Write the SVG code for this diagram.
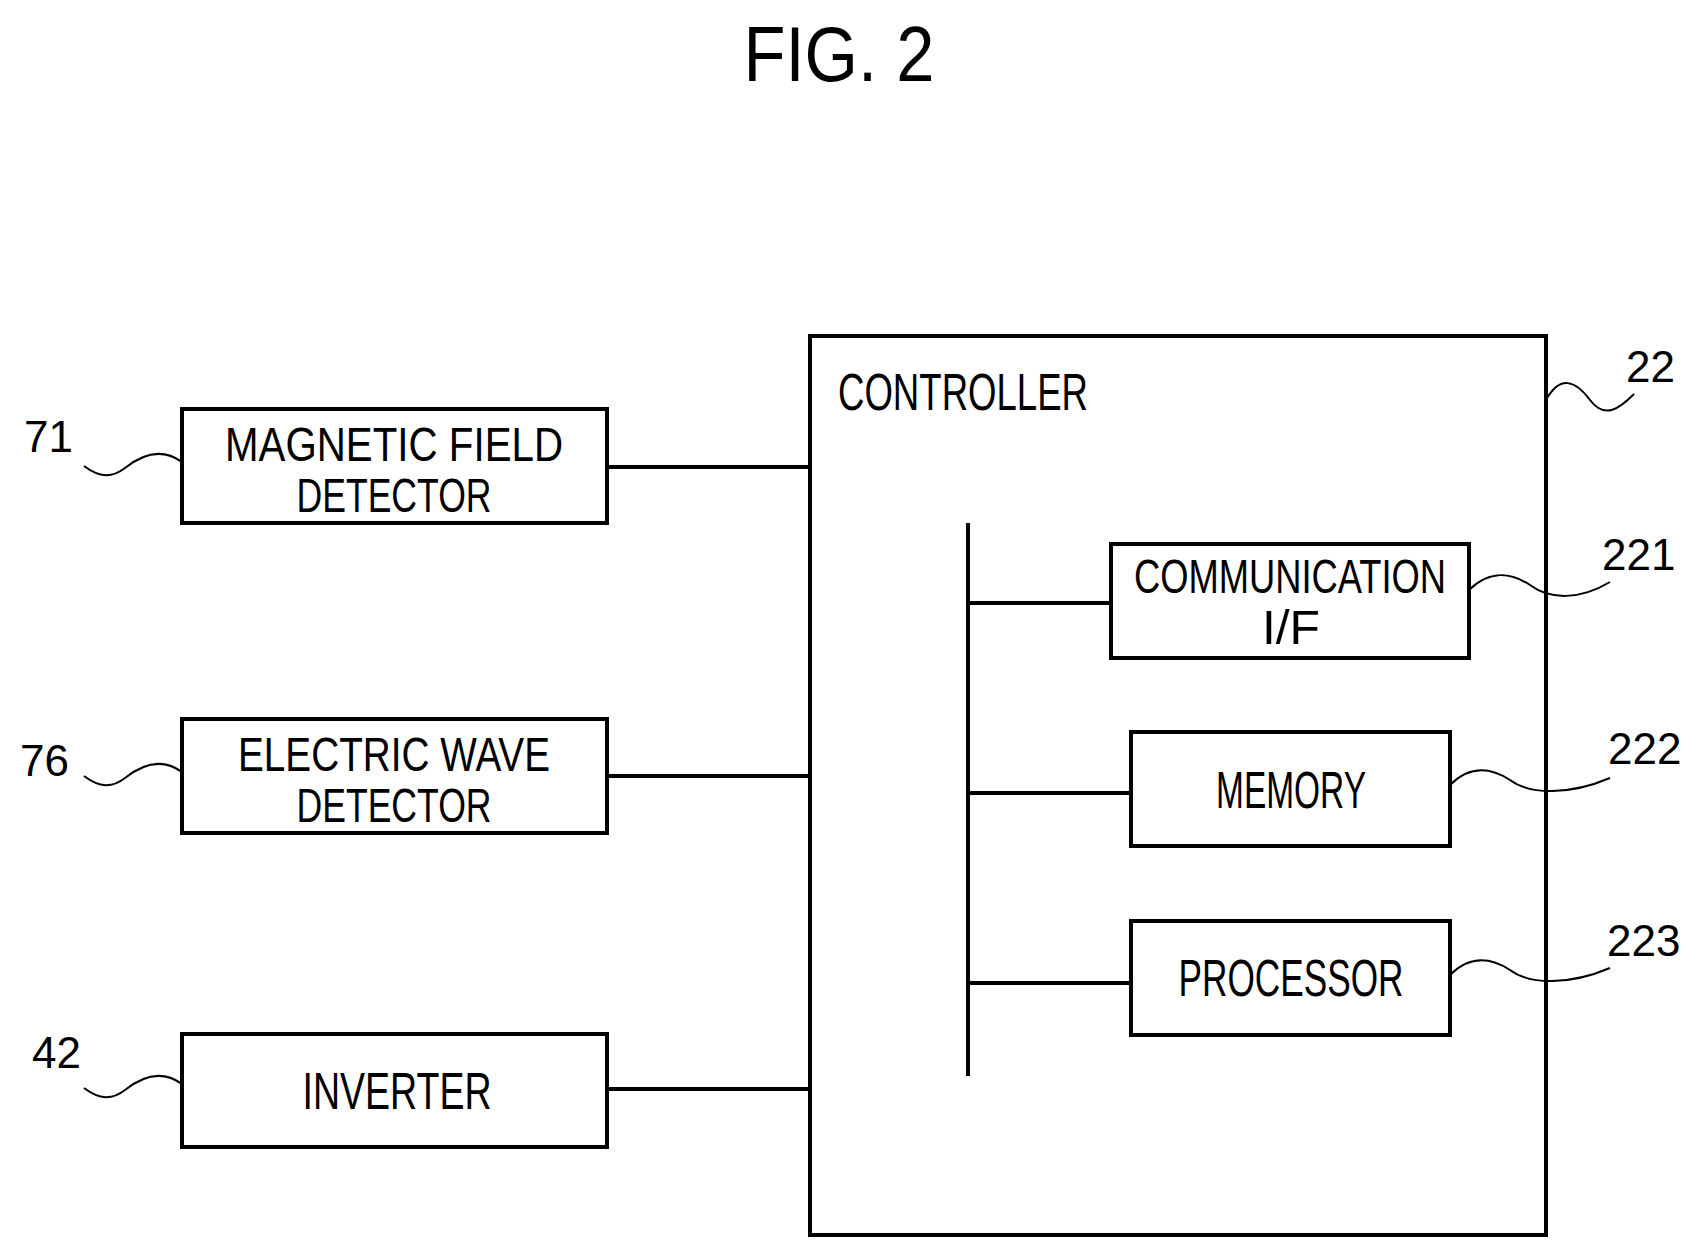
<svg xmlns="http://www.w3.org/2000/svg" width="1697" height="1255" viewBox="0 0 1697 1255">
<style>
.b{fill:none;stroke:#000;stroke-width:4}
.l{fill:none;stroke:#000;stroke-width:4}
.s{fill:none;stroke:#000;stroke-width:2}
text{font-family:"Liberation Sans",Arial,sans-serif;font-size:48px;fill:#000}
.c{text-anchor:middle}
.n{font-size:44px}
</style>
<rect width="1697" height="1255" fill="#fff"/>
<text x="839" y="81" class="c" style="font-size:78px" textLength="191" lengthAdjust="spacingAndGlyphs">FIG. 2</text>
<g id="controller">
<rect class="b" x="810" y="336" width="736" height="899"/>
<text x="838" y="410" style="font-size:52px" textLength="250" lengthAdjust="spacingAndGlyphs">CONTROLLER</text>
<path class="s" d="M1546,400 C1560,375 1575,380 1590,400 C1605,420 1620,408 1634,394"/>
<text x="1626" y="382" class="n">22</text>
</g>
<g id="mfd">
<rect class="b" x="182" y="409" width="425" height="114"/>
<text x="394" y="461" class="c" textLength="338" lengthAdjust="spacingAndGlyphs">MAGNETIC FIELD</text>
<text x="394" y="512" class="c" textLength="195" lengthAdjust="spacingAndGlyphs">DETECTOR</text>
<path class="s" d="M84,466 C100,478 112,478 125,468 C140,456 160,446 182,462"/>
<text x="24" y="452" class="n">71</text>
</g>
<g id="ewd">
<rect class="b" x="182" y="719" width="425" height="114"/>
<text x="394" y="771" class="c" textLength="312" lengthAdjust="spacingAndGlyphs">ELECTRIC WAVE</text>
<text x="394" y="822" class="c" textLength="195" lengthAdjust="spacingAndGlyphs">DETECTOR</text>
<path class="s" d="M84,776 C100,788 112,788 125,778 C140,766 160,756 182,772"/>
<text x="20" y="776" class="n">76</text>
</g>
<g id="inv">
<rect class="b" x="182" y="1034" width="425" height="113"/>
<text x="397" y="1109" class="c" style="font-size:52px" textLength="189" lengthAdjust="spacingAndGlyphs">INVERTER</text>
<path class="s" d="M84,1088 C100,1100 112,1100 125,1090 C140,1078 160,1068 182,1084"/>
<text x="32" y="1068" class="n">42</text>
</g>
<g id="comm">
<rect class="b" x="1111" y="544" width="358" height="114"/>
<text x="1290" y="593" class="c" textLength="312" lengthAdjust="spacingAndGlyphs">COMMUNICATION</text>
<text x="1291" y="644" class="c" textLength="58" lengthAdjust="spacingAndGlyphs">I/F</text>
<path class="s" d="M1469,590 C1490,570 1510,572 1530,585 C1550,600 1580,600 1610,582"/>
<text x="1602" y="570" class="n">221</text>
</g>
<g id="mem">
<rect class="b" x="1131" y="732" width="319" height="114"/>
<text x="1291" y="808" class="c" style="font-size:52px" textLength="150" lengthAdjust="spacingAndGlyphs">MEMORY</text>
<path class="s" d="M1450,785 C1470,765 1490,767 1510,780 C1530,795 1570,795 1610,778"/>
<text x="1608" y="764" class="n">222</text>
</g>
<g id="proc">
<rect class="b" x="1131" y="921" width="319" height="114"/>
<text x="1291" y="996" class="c" style="font-size:52px" textLength="225" lengthAdjust="spacingAndGlyphs">PROCESSOR</text>
<path class="s" d="M1450,975 C1470,955 1490,957 1510,970 C1530,985 1570,985 1610,968"/>
<text x="1607" y="956" class="n">223</text>
</g>
<g id="connectors">
<path class="l" d="M607,467H810M607,776H810M607,1089H810"/>
<path class="l" d="M968,523V1076"/>
<path class="l" d="M968,603H1111M968,793H1131M968,983H1131"/>
</g>
</svg>
